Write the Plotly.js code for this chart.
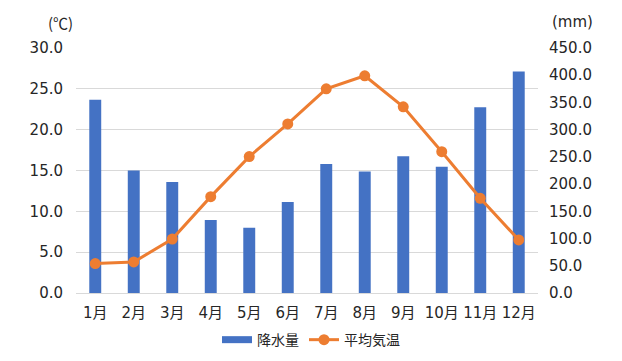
<!DOCTYPE html>
<html>
<head>
<meta charset="utf-8">
<script src="https://cdn.plot.ly/plotly-3.0.1.min.js"></script>
<style>html,body{margin:0;padding:0;background:#fff;}#chart{width:622px;height:361px;}</style>
</head>
<body>
<div id="chart"></div>
<script>
const months = ["1月","2月","3月","4月","5月","6月","7月","8月","9月","10月","11月","12月"];
const precipitation = [355, 225, 204, 134, 120, 167, 237, 223, 251, 232, 341, 407];
const temperature = [3.6, 3.8, 6.6, 11.8, 16.7, 20.7, 25.0, 26.6, 22.8, 17.3, 11.6, 6.5];
const tempTicks = [0, 5, 10, 15, 20, 25, 30];
const precipTicks = [0, 50, 100, 150, 200, 250, 300, 350, 400, 450];

const FONT = '"DejaVu Sans", "Noto Sans CJK JP", sans-serif';
const TXT = '#262626';
const BLUE = '#4472C4';
const ORANGE = '#ED7D31';

const traces = [
  {
    type: 'bar', name: '降水量', x: months, y: precipitation,
    yaxis: 'y', marker: {color: BLUE}, hoverinfo: 'skip', showlegend: false
  },
  {
    // legend entry only (Excel-style wide bar swatch)
    type: 'scatter', mode: 'lines', name: '降水量', x: [null], y: [null],
    yaxis: 'y', line: {color: BLUE, width: 7}, hoverinfo: 'skip'
  },
  {
    type: 'scatter', mode: 'lines+markers', name: '平均気温', x: months, y: temperature,
    yaxis: 'y2', line: {color: ORANGE, width: 3}, marker: {color: ORANGE, size: 11},
    hoverinfo: 'skip'
  }
];

const layout = {
  width: 622, height: 361,
  margin: {l: 76, r: 84, t: 48, b: 68},
  paper_bgcolor: '#fff', plot_bgcolor: '#fff',
  font: {family: FONT, color: TXT, size: 15},
  bargap: 0.69,
  showlegend: true,
  legend: {orientation: 'h', x: 0.5, xref: 'container', xanchor: 'center',
           y: 0.058, yref: 'container', yanchor: 'middle',
           font: {size: 14, color: TXT, family: '"Noto Sans CJK JP", sans-serif'},
           itemwidth: 30, tracegroupgap: 0},
  xaxis: {
    type: 'category', categoryarray: months, range: [-0.5, months.length - 0.5],
    showgrid: false, zeroline: false, automargin: false,
    showline: true, linecolor: '#d9d9d9', linewidth: 1,
    ticks: '', tickfont: {size: 15, color: TXT}, ticklabelstandoff: 6
  },
  yaxis: {
    side: 'right', range: [0, 450], tickvals: precipTicks, automargin: false,
    ticktext: precipTicks.map(v => v.toFixed(1)),
    showgrid: false, zeroline: false, showline: false, ticks: '',
    tickfont: {size: 15, color: TXT}, ticklabelstandoff: 10
  },
  yaxis2: {
    side: 'left', overlaying: 'y', range: [0, 30], tickvals: tempTicks, automargin: false,
    ticktext: tempTicks.map(v => v.toFixed(1)),
    showgrid: true, gridcolor: '#d9d9d9', gridwidth: 1,
    zeroline: false, showline: false, ticks: '',
    tickfont: {size: 15, color: TXT}, ticklabelstandoff: 12
  },
  annotations: [
    {xref: 'paper', yref: 'paper', x: 0, y: 1, xshift: -16, yshift: 26, xanchor: 'center', yanchor: 'middle',
     text: '(℃)', showarrow: false, font: {size: 15, color: TXT, family: '"Noto Sans CJK JP", sans-serif'}},
    {xref: 'paper', yref: 'paper', x: 1, y: 1, xshift: 34, yshift: 26, xanchor: 'center', yanchor: 'middle',
     text: '(mm)', showarrow: false, font: {size: 15, color: TXT}}
  ]
};

Plotly.newPlot('chart', traces, layout, {staticPlot: true, displayModeBar: false});
</script>
</body>
</html>
